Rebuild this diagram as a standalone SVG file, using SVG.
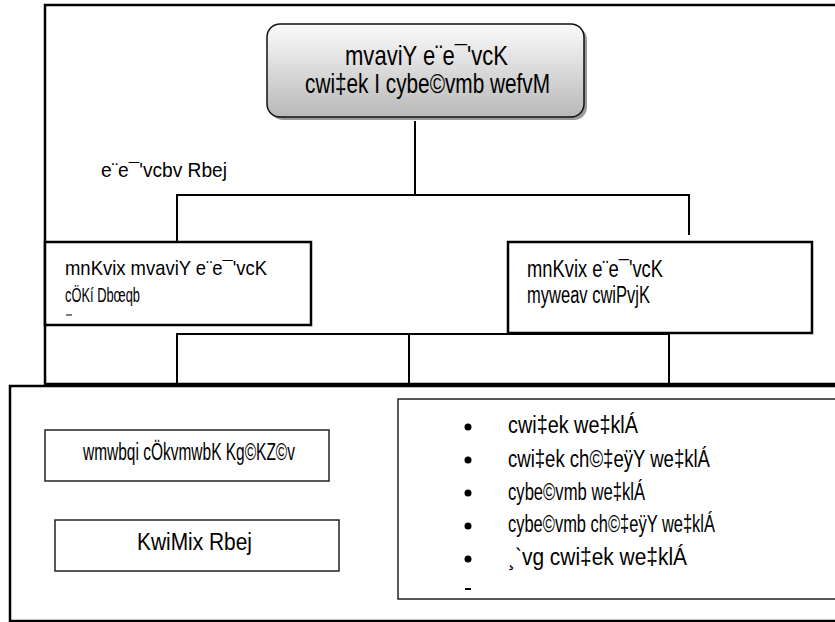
<svg xmlns="http://www.w3.org/2000/svg" width="835" height="622" viewBox="0 0 835 622">
<style>
text{font-family:"Liberation Sans Narrow","Liberation Sans",Arial,sans-serif;fill:#000}
.frame{fill:none;stroke:#000;stroke-width:2.5}
.box{fill:#fff;stroke:#000;stroke-width:2.5}
.thin{fill:#fff;stroke:#222;stroke-width:1.5}
.conn{stroke:#000;stroke-width:2;fill:none}
.t20{font-size:21px}
.t22{font-size:23px}
.t27{font-size:28px}
</style>
<defs>
<linearGradient id="g" x1="0" y1="0" x2="0" y2="1">
<stop offset="0" stop-color="#fbfbfb"/>
<stop offset="1" stop-color="#b8b8b8"/>
</linearGradient>
</defs>
<rect width="835" height="622" fill="#fff"/>
<g id="frames">
<rect class="frame" x="45" y="5" width="800" height="379"/>
<rect class="frame" x="10" y="386" width="840" height="235"/>
</g>
<g id="connectors">
<line class="conn" x1="415" y1="121" x2="415" y2="195"/>
<line class="conn" x1="176" y1="195" x2="690" y2="195"/>
<line class="conn" x1="177" y1="195" x2="177" y2="242"/>
<line class="conn" x1="689" y1="195" x2="689" y2="235"/>
<line class="conn" x1="176" y1="334" x2="670" y2="334"/>
<line class="conn" x1="177" y1="334" x2="177" y2="384"/>
<line class="conn" x1="409" y1="334" x2="409" y2="384"/>
<line class="conn" x1="669" y1="334" x2="669" y2="384"/>
</g>
<g id="gm">
<rect x="270" y="27" width="317" height="93" rx="13" fill="#9a9a9a"/>
<rect x="267" y="24" width="317" height="93" rx="13" fill="url(#g)" stroke="#111" stroke-width="1.5"/>
<text class="t27" x="345" y="65" textLength="163" lengthAdjust="spacingAndGlyphs">mvaviY e¨e¯'vcK</text>
<text class="t27" x="305" y="93" textLength="245" lengthAdjust="spacingAndGlyphs">cwi‡ek I cybe©vmb wefvM</text>
</g>
<g id="label">
<text class="t20" x="101" y="177" textLength="126" lengthAdjust="spacingAndGlyphs">e¨e¯'vcbv Rbej</text>
</g>
<g id="agm1">
<rect class="box" x="45" y="242" width="266" height="83"/>
<text class="t20" x="65" y="275" textLength="202" lengthAdjust="spacingAndGlyphs">mnKvix mvaviY e¨e¯'vcK</text>
<text class="t20" x="65" y="302" textLength="75" lengthAdjust="spacingAndGlyphs">cÖKí Dbœqb</text>
<line x1="66" y1="315" x2="72" y2="315" stroke="#000" stroke-width="1"/>
</g>
<g id="agm2">
<rect class="box" x="508" y="242" width="304" height="91"/>
<text class="t22" x="527" y="277" textLength="136" lengthAdjust="spacingAndGlyphs">mnKvix e¨e¯'vcK</text>
<text class="t22" x="527" y="303" textLength="123" lengthAdjust="spacingAndGlyphs">myweav cwiPvjK</text>
</g>
<g id="sao">
<rect class="thin" x="45" y="430" width="284" height="51"/>
<text class="t22" x="83" y="460" textLength="212" lengthAdjust="spacingAndGlyphs">wmwbqi cÖkvmwbK Kg©KZ©v</text>
</g>
<g id="tech">
<rect class="thin" x="55" y="520" width="284" height="51"/>
<text class="t22" x="137" y="550" textLength="115" lengthAdjust="spacingAndGlyphs">KwiMix Rbej</text>
</g>
<g id="experts">
<rect class="thin" x="398" y="399" width="450" height="200"/>
<circle cx="468" cy="427" r="3.5"/>
<circle cx="468" cy="460" r="3.5"/>
<circle cx="468" cy="493" r="3.5"/>
<circle cx="468" cy="526" r="3.5"/>
<circle cx="468" cy="559" r="3.5"/>
<rect x="465" y="588" width="6" height="2"/>
<text class="t22" x="508" y="433" textLength="130" lengthAdjust="spacingAndGlyphs">cwi‡ek we‡klÁ</text>
<text class="t22" x="508" y="467" textLength="202" lengthAdjust="spacingAndGlyphs">cwi‡ek ch©‡eÿY we‡klÁ</text>
<text class="t22" x="508" y="500" textLength="137" lengthAdjust="spacingAndGlyphs">cybe©vmb we‡klÁ</text>
<text class="t22" x="508" y="532" textLength="207" lengthAdjust="spacingAndGlyphs">cybe©vmb ch©‡eÿY we‡klÁ</text>
<text class="t22" x="508" y="565" textLength="179" lengthAdjust="spacingAndGlyphs">¸`vg cwi‡ek we‡klÁ</text>
</g>
</svg>
